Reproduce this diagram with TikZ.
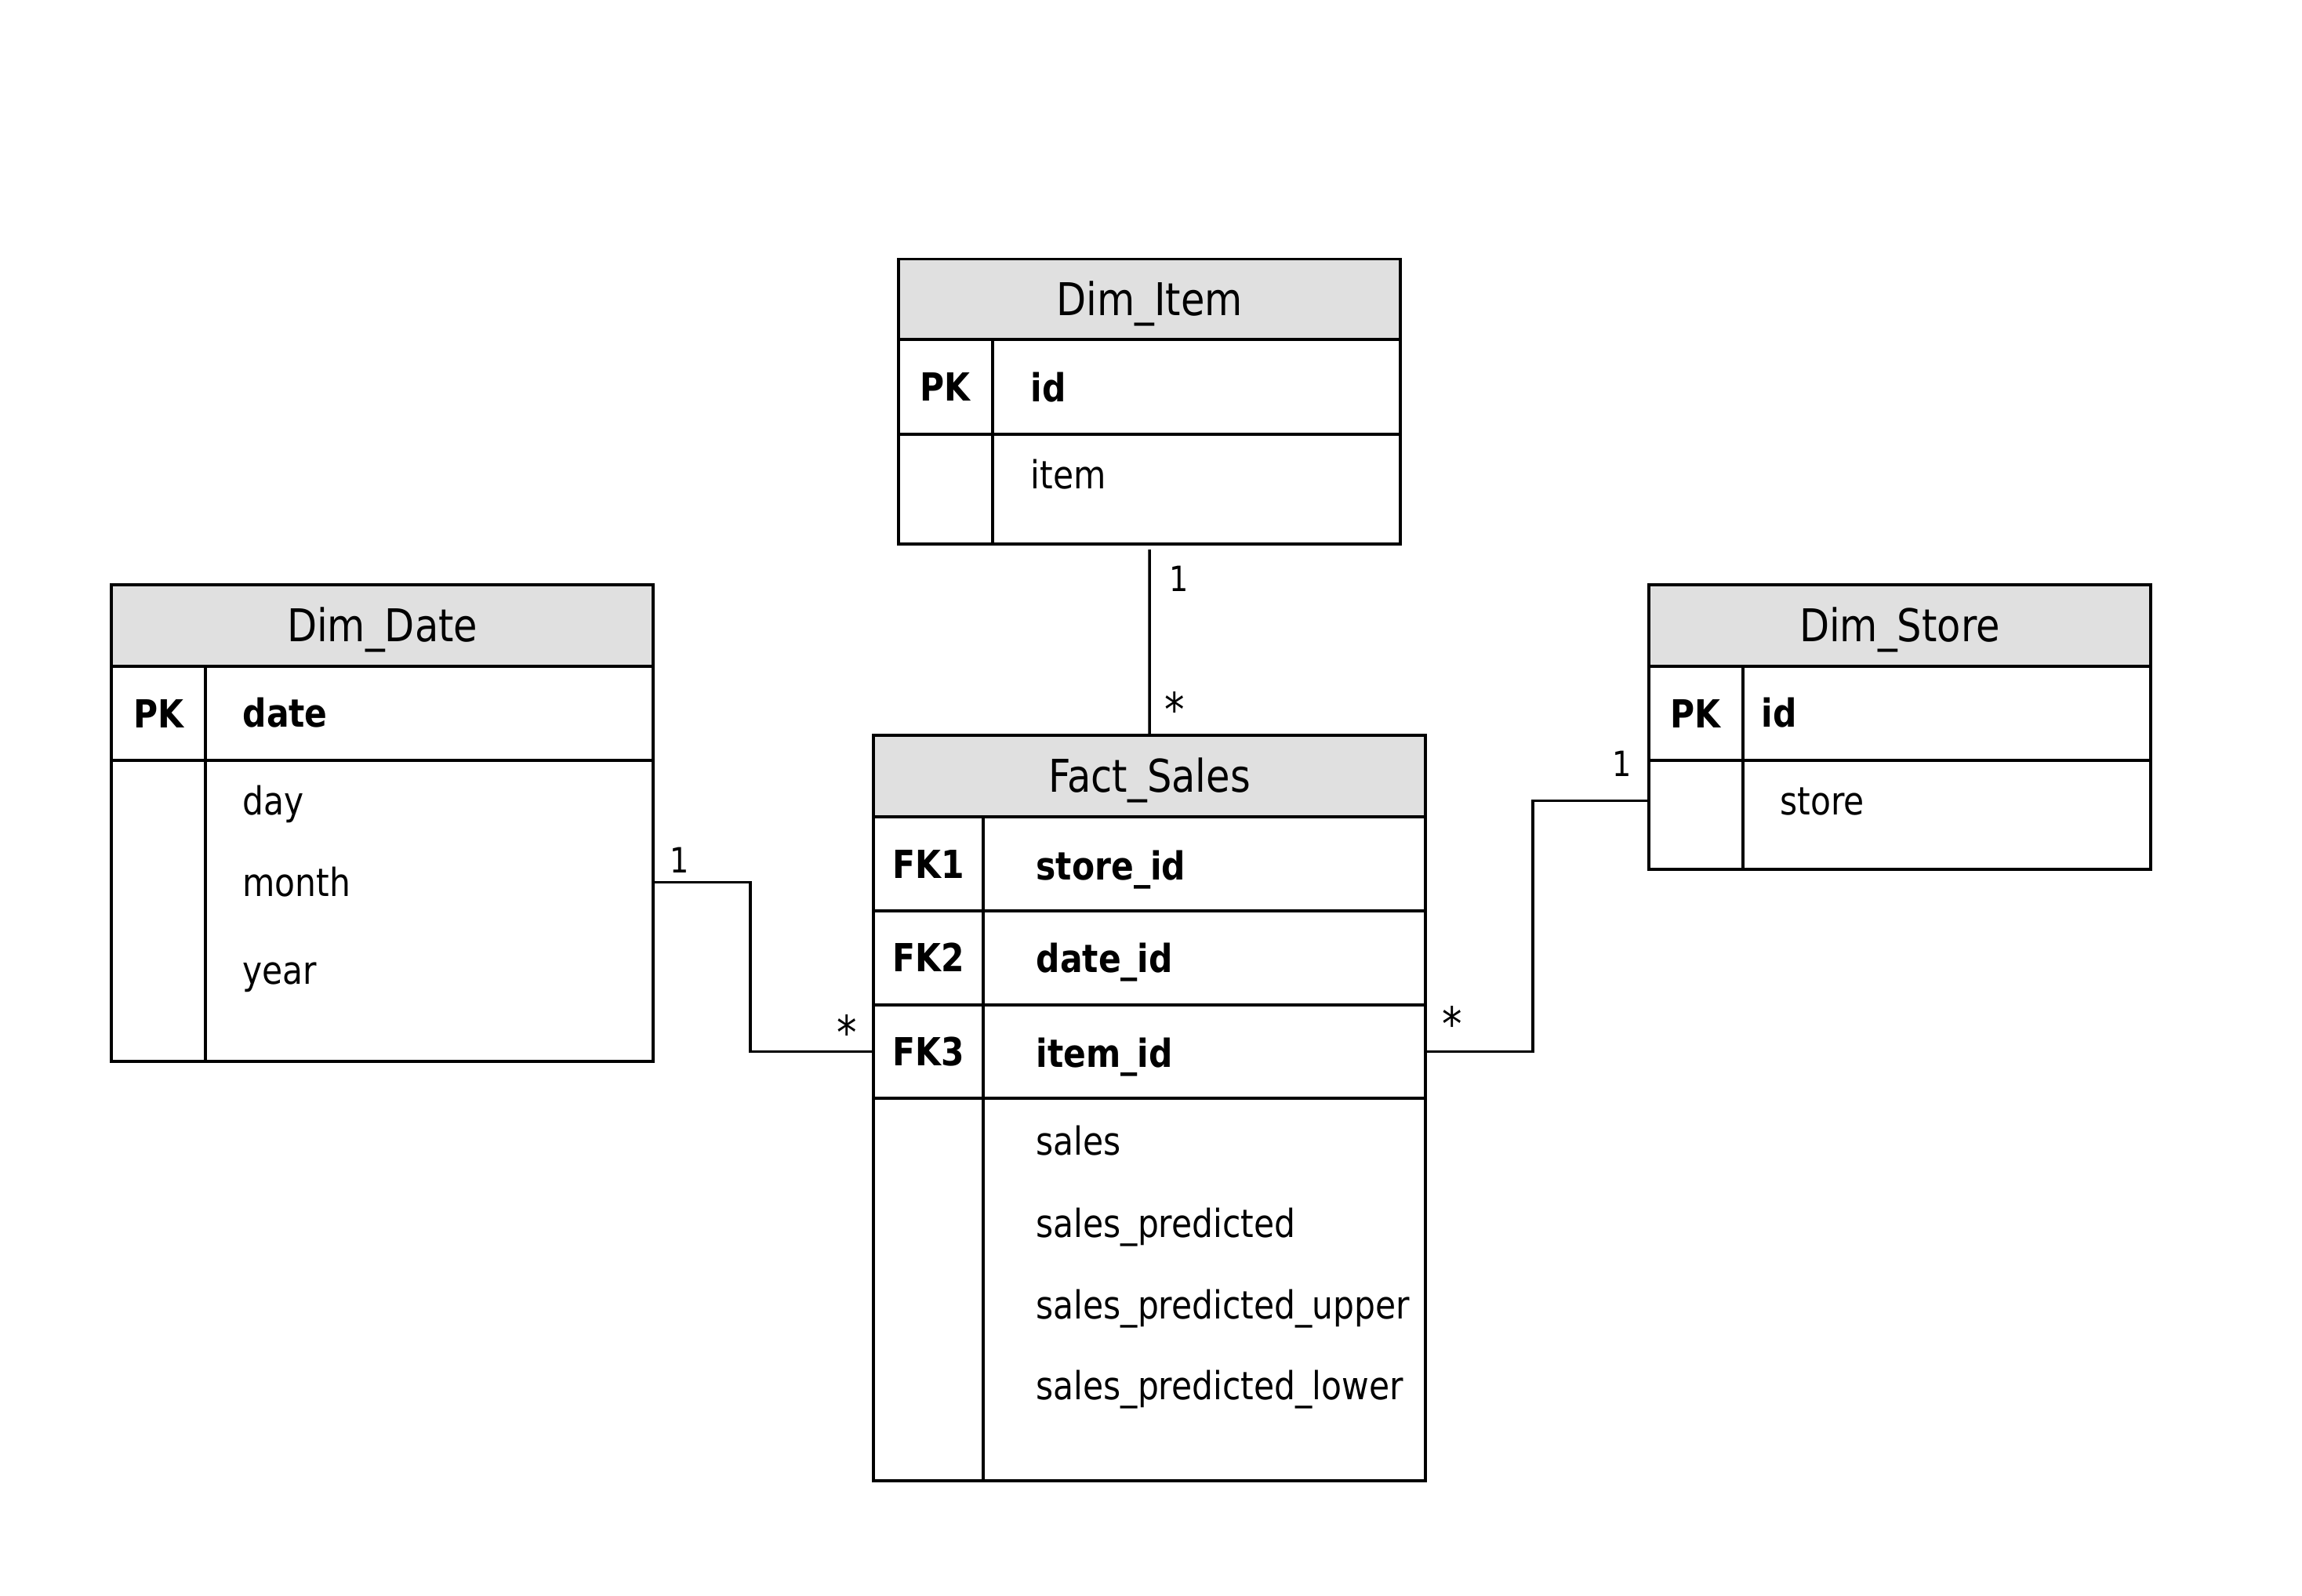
\documentclass[tikz,border=0pt]{standalone}
\usepackage{fontspec}
\setmainfont{DejaVu Sans}[FakeStretch=0.86]
\usepackage{tikz}
\definecolor{hdrgray}{HTML}{E0E0E0}
\newcommand{\ertitle}{\fontsize{17.5}{20}\selectfont}
\newcommand{\erbody}{\fontsize{15}{18}\selectfont}
\newcommand{\ermult}{\fontsize{13.5}{16}\selectfont}
\newcommand{\erstar}{\fontsize{18}{20}\selectfont}

\begin{document}
\begin{tikzpicture}[x=0.02cm,y=-0.02cm,
  hdr/.style={draw, fill=hdrgray, line width=1.2pt, inner sep=0pt, outer sep=0pt,
    anchor=north west, font=\ertitle, text height=12.5pt, text depth=0pt},
  cell/.style={draw, line width=1.2pt, inner sep=0pt, outer sep=0pt,
    anchor=north west, font=\erbody\bfseries, text height=11pt, text depth=0pt},
  fld/.style={inner sep=0pt, anchor=base west, font=\erbody, text height=11pt, text depth=0pt},
  mult/.style={inner sep=0pt, anchor=base west, font=\ermult},
  many/.style={inner sep=0pt, anchor=base west, font=\erstar},
  link/.style={line width=1.1pt}]
\useasboundingbox (0,0) rectangle (1568,1087);

%% Dim_Item
\node[hdr, minimum width=6.84cm, minimum height=1.10cm] (itemH) at (612,176.5) {Dim\_Item};
\node[cell, minimum width=1.28cm, minimum height=1.29cm] (itemK1) at (itemH.south west) {PK};
\node[cell, minimum width=5.56cm, minimum height=1.29cm] (itemF1) at (itemK1.north east) {};
\node[cell, minimum width=1.28cm, minimum height=1.49cm] (itemK2) at (itemK1.south west) {};
\node[cell, minimum width=5.56cm, minimum height=1.49cm] (itemF2) at (itemK2.north east) {};
\node[fld] (itemId) at (701.7,273.6) {\textbf{id}};
\node[fld] (itemItem) at (701.7,333.2) {item};

%% Dim_Date
\node[hdr, minimum width=7.38cm, minimum height=1.11cm] (dateH) at (76,398.5) {Dim\_Date};
\node[cell, minimum width=1.28cm, minimum height=1.28cm] (dateK1) at (dateH.south west) {PK};
\node[cell, minimum width=6.10cm, minimum height=1.28cm] (dateF1) at (dateK1.north east) {};
\node[cell, minimum width=1.28cm, minimum height=4.10cm] (dateK2) at (dateK1.south west) {};
\node[cell, minimum width=6.10cm, minimum height=4.10cm] (dateF2) at (dateK2.north east) {};
\node[fld] (dateDate) at (165,495.6) {\textbf{date}};
\node[fld] (dateDay) at (165,555.2) {day};
\node[fld] (dateMonth) at (165,610.8) {month};
\node[fld] (dateYear) at (165,670.4) {year};

%% Dim_Store
\node[hdr, minimum width=6.84cm, minimum height=1.11cm] (storeH) at (1123,398.5) {Dim\_Store};
\node[cell, minimum width=1.28cm, minimum height=1.28cm] (storeK1) at (storeH.south west) {PK};
\node[cell, minimum width=5.56cm, minimum height=1.28cm] (storeF1) at (storeK1.north east) {};
\node[cell, minimum width=1.28cm, minimum height=1.49cm] (storeK2) at (storeK1.south west) {};
\node[cell, minimum width=5.56cm, minimum height=1.49cm] (storeF2) at (storeK2.north east) {};
\node[fld] (storeId) at (1199.6,495.6) {\textbf{id}};
\node[fld] (storeStore) at (1212.2,555.2) {store};

%% Fact_Sales
\node[hdr, minimum width=7.52cm, minimum height=1.11cm] (factH) at (595,501) {Fact\_Sales};
\node[cell, minimum width=1.49cm, minimum height=1.28cm] (factK1) at (factH.south west) {FK1};
\node[cell, minimum width=6.03cm, minimum height=1.28cm] (factF1) at (factK1.north east) {};
\node[cell, minimum width=1.49cm, minimum height=1.28cm] (factK2) at (factK1.south west) {FK2};
\node[cell, minimum width=6.03cm, minimum height=1.28cm] (factF2) at (factK2.north east) {};
\node[cell, minimum width=1.49cm, minimum height=1.28cm] (factK3) at (factK2.south west) {FK3};
\node[cell, minimum width=6.03cm, minimum height=1.28cm] (factF3) at (factK3.north east) {};
\node[cell, minimum width=1.49cm, minimum height=5.21cm] (factK4) at (factK3.south west) {};
\node[cell, minimum width=6.03cm, minimum height=5.21cm] (factF4) at (factK4.north east) {};
\node[fld] (factStore) at (705.5,599.3) {\textbf{store\_id}};
\node[fld] (factDate) at (705.5,662.5) {\textbf{date\_id}};
\node[fld] (factItem) at (705.5,727.1) {\textbf{item\_id}};
\node[fld] (factSales) at (705.5,786.7) {sales};
\node[fld] (factPred) at (705.5,842.9) {sales\_predicted};
\node[fld] (factUp) at (705.5,898.4) {sales\_predicted\_upper};
\node[fld] (factLow) at (705.5,953.6) {sales\_predicted\_lower};

%%% edges
\draw[link] (factH.north) -- ([yshift=-2.3pt]itemH.south |- itemK2.south);
\draw[link] (dateMonth -| dateF2.east) -- ++(66,0) |- (factK3.west);
\draw[link] (factF3.east) -- ++(73,0) |- (storeStore -| storeK2.west);

%%% multiplicities
\node[mult] (itemOne) at (796,403) {1};
\node[many] (itemMany) at (793,495) {*};
\node[mult] (dateOne) at (456,594.6) {1};
\node[many] (dateMany) at (570,715) {*};
\node[mult] (storeOne) at (1098,529) {1};
\node[many] (storeMany) at (982,709) {*};
\end{tikzpicture}
\end{document}
